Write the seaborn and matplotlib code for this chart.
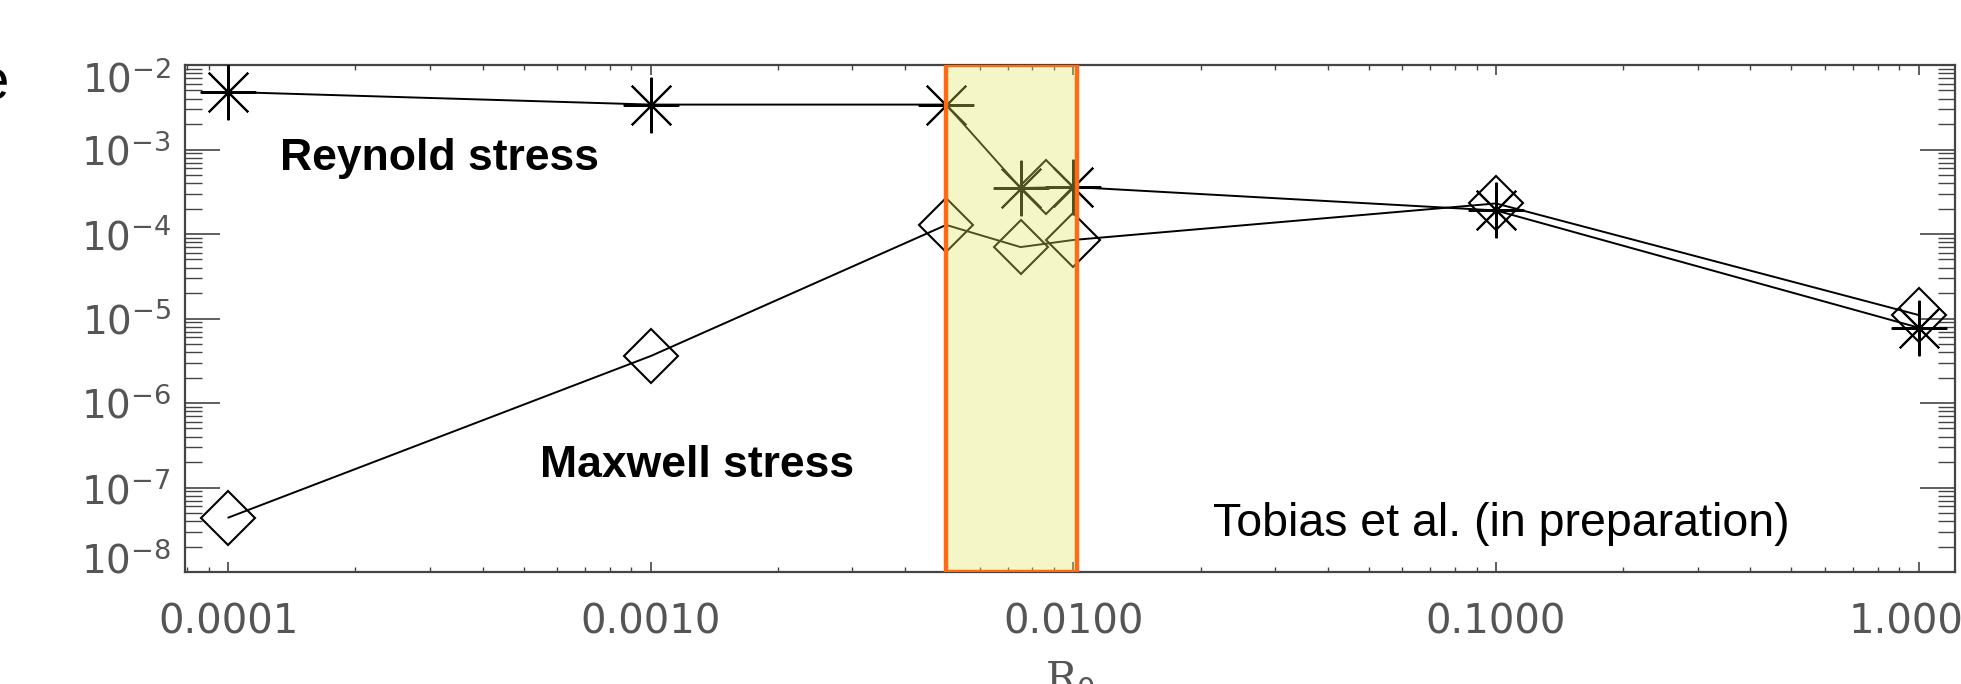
import numpy as np
import pandas as pd
import matplotlib
matplotlib.use("Agg")
import matplotlib.pyplot as plt
import matplotlib.transforms as mtransforms
from matplotlib.ticker import FixedLocator, FixedFormatter, LogLocator, NullFormatter
import seaborn as sns

# Values (log-log axes)
R0 = [1e-4, 1e-3, 5e-3, 7.5e-3, 1e-2, 1e-1, 1.0]
REYNOLDS_STRESS = [4.8e-3, 3.4e-3, 3.4e-3, 3.5e-4, 3.6e-4, 1.9e-4, 7.8e-6]
MAXWELL_STRESS = [4.4e-8, 3.6e-6, 1.28e-4, 7.0e-5, 8.5e-5, 2.3e-4, 1.1e-5]

# lone diamond sitting on the Reynolds curve inside the highlighted band
STRAY_R0 = [8.6e-3]
STRAY_VALUE = [3.6e-4]

# highlighted band on the R0 axis
BAND = [5.0e-3, 1.02e-2]

X_TICKS = [1e-4, 1e-3, 1e-2, 1e-1, 1.0]
X_TICK_LABELS = ["0.0001", "0.0010", "0.0100", "0.1000", "1.0000"]
Y_TICKS = [1e-8, 1e-7, 1e-6, 1e-5, 1e-4, 1e-3, 1e-2]
Y_TICK_LABELS = [r"$10^{-8}$", r"$10^{-7}$", r"$10^{-6}$", r"$10^{-5}$",
                 r"$10^{-4}$", r"$10^{-3}$", r"$10^{-2}$"]

W, H, DPI = 1961, 684, 100

sns.set_theme(style="ticks")
plt.rcParams["font.family"] = ["DejaVu Sans"]
plt.rcParams["mathtext.fontset"] = "dejavusans"

df = pd.DataFrame({"R0": R0, "reynolds": REYNOLDS_STRESS, "maxwell": MAXWELL_STRESS})

fig = plt.figure(figsize=(W / DPI, H / DPI), dpi=DPI)
ax = fig.add_axes([185 / W, 1 - 572 / H, (1955 - 185) / W, (572 - 65) / H])

line_kw = dict(color="black", linewidth=1.4, markeredgecolor="black",
               markeredgewidth=1.5, sort=False, ax=ax, zorder=3)
sns.lineplot(data=df, x="R0", y="reynolds", marker=(8, 2, 0), markersize=40, **line_kw)
sns.lineplot(data=df, x="R0", y="maxwell", marker="D", markersize=27,
             markerfacecolor="none", **line_kw)
ax.plot(STRAY_R0, STRAY_VALUE, linestyle="none", marker="D", markersize=27,
        markerfacecolor="none", markeredgecolor="black", markeredgewidth=1.5, zorder=3)

ax.set_xscale("log")
ax.set_yscale("log")
ax.set_xlim(7.9e-5, 1.22)
ax.set_ylim(1e-8, 1e-2)

# translucent yellow band with an orange frame
ax.axvspan(BAND[0], BAND[1], facecolor=(0.89, 0.91, 0.38), alpha=0.35, lw=0, zorder=5)
ax.axvspan(BAND[0], BAND[1], fill=False, edgecolor="#FF6A13", lw=3.2, zorder=6)

ax.xaxis.set_major_locator(FixedLocator(X_TICKS))
ax.xaxis.set_major_formatter(FixedFormatter(X_TICK_LABELS))
ax.yaxis.set_major_locator(FixedLocator(Y_TICKS))
ax.yaxis.set_major_formatter(FixedFormatter(Y_TICK_LABELS))
for axis in (ax.xaxis, ax.yaxis):
    axis.set_minor_locator(LogLocator(base=10, subs=np.arange(2, 10), numticks=30))
    axis.set_minor_formatter(NullFormatter())

ax.tick_params(which="both", direction="in", top=True, right=True,
               color="#444444", labelcolor="#555555")
ax.tick_params(axis="x", which="major", length=7.2, width=1.2, labelsize=29, pad=22)
ax.tick_params(axis="x", which="minor", length=3.6, width=1.0)
ax.tick_params(axis="y", which="major", length=25, width=1.2, labelsize=28, pad=10)
ax.tick_params(axis="y", which="minor", length=12, width=1.0)

for side in ax.spines.values():
    side.set_color("#444444")
    side.set_linewidth(1.6)

ax.set_xlabel(r"R$_0$", fontsize=30, family="DejaVu Serif", color="#555555", labelpad=12)
ax.set_ylabel("")

# end labels of the y axis sit slightly inside the frame, as in the original
yticks = ax.yaxis.get_major_ticks()
yticks[-1].label1.set_transform(yticks[-1].label1.get_transform()
                                + mtransforms.ScaledTranslation(0, -12 / DPI, fig.dpi_scale_trans))
yticks[0].label1.set_transform(yticks[0].label1.get_transform()
                               + mtransforms.ScaledTranslation(0, 14 / DPI, fig.dpi_scale_trans))

ann_font = ["Liberation Sans", "DejaVu Sans"]
ax.text(0.0537, 0.793, "Reynold stress", transform=ax.transAxes, fontsize=32,
        fontweight="bold", family=ann_font, color="black", va="baseline", zorder=7)
ax.text(0.2006, 0.187, "Maxwell stress", transform=ax.transAxes, fontsize=32,
        fontweight="bold", family=ann_font, color="black", va="baseline", zorder=7)
ax.text(0.581, 0.071, "Tobias et al. (in preparation)", transform=ax.transAxes,
        fontsize=33.5, family=ann_font, color="black", va="baseline", zorder=7)

# clipped glyph of a larger heading at the far left edge
fig.text(9 / W, 1 - 85 / H, "e", fontsize=42, family=ann_font, color="black",
         ha="right", va="center")

fig.savefig("out.png", dpi=DPI)
